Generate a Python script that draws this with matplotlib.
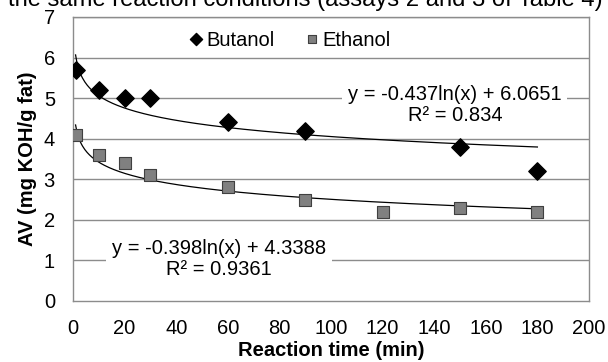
import numpy as np
import matplotlib
matplotlib.use("Agg")
import matplotlib.pyplot as plt

plt.rcParams['font.family'] = ['Liberation Sans', 'DejaVu Sans']

# Data
butanol_time = [1, 10, 20, 30, 60, 90, 150, 180]
butanol_av = [5.7, 5.2, 5.0, 5.0, 4.4, 4.2, 3.8, 3.2]
ethanol_time = [1, 10, 20, 30, 60, 90, 120, 150, 180]
ethanol_av = [4.1, 3.6, 3.4, 3.1, 2.8, 2.5, 2.2, 2.3, 2.2]

# Logarithmic trendline coefficients (from chart labels)
butanol_fit = (-0.437, 6.0651)
butanol_r2 = 0.834
ethanol_fit = (-0.398, 4.3388)
ethanol_r2 = 0.9361

xticks = [0, 20, 40, 60, 80, 100, 120, 140, 160, 180, 200]
yticks = [0, 1, 2, 3, 4, 5, 6, 7]

fig = plt.figure(figsize=(6.08, 3.62), dpi=100)
ax = fig.add_axes([73/608, 1-301/362, (589-73)/608, (301-17)/362])

grid_c = '#8c8c8c'
for y in yticks[1:]:
    ax.axhline(y, color=grid_c, lw=1.0, zorder=0)

xs = np.linspace(1, 180, 400)
ax.plot(xs, butanol_fit[0]*np.log(xs) + butanol_fit[1], color='black', lw=0.9, zorder=2)
ax.plot(xs, ethanol_fit[0]*np.log(xs) + ethanol_fit[1], color='black', lw=0.9, zorder=2)

ax.scatter(butanol_time, butanol_av, marker='D', s=78, color='black', zorder=4, label='Butanol')
ax.scatter(ethanol_time, ethanol_av, marker='s', s=78, facecolor='#808080', edgecolor='#404040',
           linewidth=0.8, zorder=4, label='Ethanol')

ax.set_xlim(0, 200)
ax.set_ylim(0, 7)
ax.set_xticks(xticks)
ax.set_yticks(yticks)
ax.tick_params(axis='both', length=0, labelsize=14.5, colors='black')
ax.tick_params(axis='y', pad=13)
ax.tick_params(axis='x', pad=13)
for s in ax.spines.values():
    s.set_color(grid_c)
    s.set_linewidth(1.0)

ax.set_xlabel('Reaction time (min)', fontsize=14.5, fontweight='bold', labelpad=2)
ax.set_ylabel('AV (mg KOH/g fat)', fontsize=14.5, fontweight='bold', labelpad=5)

bbox = dict(facecolor='white', edgecolor='none', pad=4)
ax.text(148, 4.84, f'y = {butanol_fit[0]}ln(x) + {butanol_fit[1]}\nR² = {butanol_r2}',
        ha='center', va='center', fontsize=14.5, linespacing=1.15, bbox=bbox, zorder=3)
ax.text(56.6, 1.035, f'y = {ethanol_fit[0]}ln(x) + {ethanol_fit[1]}\nR² = {ethanol_r2}',
        ha='center', va='center', fontsize=14.5, linespacing=1.15, bbox=bbox, zorder=3)

leg = ax.legend(loc='upper center', bbox_to_anchor=(0.42, 1.0), ncol=2, frameon=False,
                fontsize=14.5, handlelength=0.7, handletextpad=0.15, columnspacing=1.5,
                markerscale=0.7, scatteryoffsets=[0.5], borderaxespad=0.3)

# Partially visible caption line at the very top (cut off as in the source)
title = fig.text(8/608, 1 - 6/362, 'the same reaction conditions (assays 2 and 3 of Table 4)',
                 ha='left', va='baseline', fontsize=17)
fig.canvas.draw()
w = title.get_window_extent(fig.canvas.get_renderer()).width
title.set_fontsize(17 * 596 / w)

fig.savefig('out.png', dpi=100)
